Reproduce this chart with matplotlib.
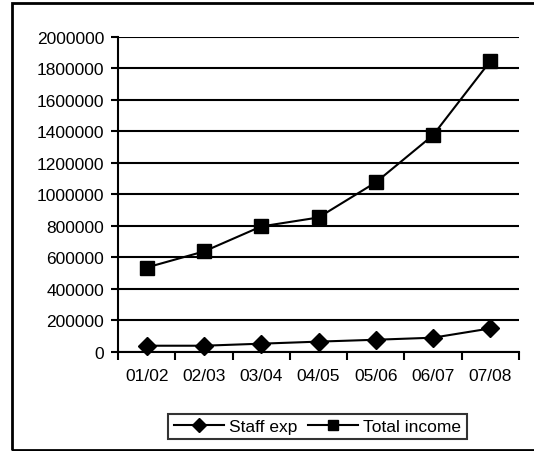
import matplotlib
matplotlib.use("Agg")
import matplotlib.pyplot as plt
from matplotlib.patches import Rectangle

plt.rcParams['font.family'] = ['Liberation Sans', 'DejaVu Sans']

years = ["01/02", "02/03", "03/04", "04/05", "05/06", "06/07", "07/08"]
staff_exp = [38000, 38000, 51000, 64000, 76000, 89000, 148000]
total_income = [535000, 637000, 796000, 853000, 1076000, 1376000, 1847000]
y_ticks = list(range(0, 2000001, 200000))

W, H = 534, 452
fig = plt.figure(figsize=(W / 100, H / 100), dpi=100)

# outer chart frame
fig.patches.append(Rectangle((12 / W, 1 - 450.5 / H), 1.2, (450.5 - 4) / H,
                             transform=fig.transFigure, fill=False,
                             edgecolor='black', linewidth=2.0, zorder=0))

ax = fig.add_axes([118 / W, 1 - 352.7 / H, (519 - 118) / W, (352.7 - 38) / H])

x = list(range(len(years)))
ax.plot(x, staff_exp, color='black', linewidth=1.5, marker='D',
        markersize=9.5, label='Staff exp', clip_on=False, zorder=3)
ax.plot(x, total_income, color='black', linewidth=1.5, marker='s',
        markersize=10.5, label='Total income', clip_on=False, zorder=3)

ax.set_xlim(-0.5, len(years) - 0.5)
ax.set_ylim(0, 2000000)
ax.set_yticks(y_ticks)
ax.set_yticklabels([str(v) for v in y_ticks], fontsize=12.5)
ax.set_xticks([i - 0.5 for i in range(len(years) + 1)], minor=False)
ax.set_xticklabels([])
ax.set_xticks(x, minor=True)
ax.set_xticklabels(years, minor=True, fontsize=12.5)
ax.tick_params(axis='x', which='minor', length=0, pad=12)
ax.tick_params(axis='x', which='major', length=6, width=1.5, direction='out')
ax.tick_params(axis='y', length=5, width=1.5, direction='out', pad=5)

ax.yaxis.grid(True, color='black', linewidth=1.5)
ax.set_axisbelow(True)
for s in ['top', 'right']:
    ax.spines[s].set_visible(False)
for s in ['left', 'bottom']:
    ax.spines[s].set_linewidth(1.5)

leg = fig.legend(loc='center', bbox_to_anchor=(317.5 / W, 1 - 427.5 / H),
                 ncol=2, fontsize=12.5, frameon=True, fancybox=False,
                 markerscale=0.7, handlelength=2.9, handletextpad=0.3,
                 columnspacing=0.6, borderpad=0.3)
leg.get_frame().set_edgecolor('black')
leg.get_frame().set_linewidth(1.5)

fig.savefig("out.png", dpi=100)
